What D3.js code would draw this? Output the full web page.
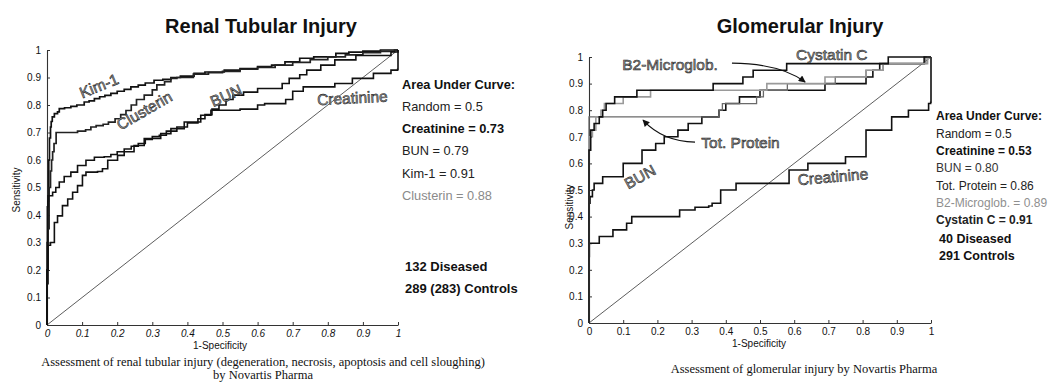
<!DOCTYPE html>
<html><head><meta charset="utf-8">
<script src="https://cdn.jsdelivr.net/npm/d3@7/dist/d3.min.js"></script>
<style>html,body{margin:0;padding:0;background:#fff;} svg{display:block}</style>
</head><body>
<svg id="chart" width="1060" height="388"></svg>
<script>
// ================= DATA =================
const axisTicks = [0,0.1,0.2,0.3,0.4,0.5,0.6,0.7,0.8,0.9,1];
const axisTickLabels = ["0","0.1","0.2","0.3","0.4","0.5","0.6","0.7","0.8","0.9","1"];
const xAxisTitle = "1-Specificity";
const yAxisTitle = "Sensitivity";
const randomLine = [[0,0],[1,1]];

// ---- Renal tubular injury (ROC points: [1-specificity, sensitivity]) ----
const renalTitle = "Renal Tubular Injury";
const renalNames = ["Kim-1","Clusterin","BUN","Creatinine"];
const renalKim1 = [[0,0],[0,0.2],[0.003,0.45],[0.005,0.6],[0.007,0.68],[0.01,0.72],[0.012,0.74],[0.015,0.757],[0.021,0.769],[0.03,0.775],[0.035,0.787],[0.05,0.79],[0.068,0.795],[0.085,0.8],[0.106,0.811],[0.12,0.815],[0.135,0.823],[0.15,0.83],[0.165,0.835],[0.182,0.842],[0.2,0.85],[0.22,0.857],[0.239,0.866],[0.26,0.872],[0.28,0.88],[0.305,0.89],[0.33,0.893],[0.353,0.9],[0.38,0.905],[0.419,0.915],[0.45,0.92],[0.505,0.927],[0.55,0.932],[0.6,0.94],[0.64,0.945],[0.678,0.957],[0.72,0.97],[0.76,0.975],[0.823,0.988],[0.86,0.992],[0.9,0.996],[0.95,1],[1,1]];
const renalClusterin = [[0,0],[0,0.15],[0.003,0.35],[0.006,0.5],[0.01,0.56],[0.013,0.6],[0.016,0.63],[0.02,0.66],[0.026,0.7],[0.087,0.705],[0.11,0.71],[0.125,0.72],[0.14,0.725],[0.16,0.73],[0.175,0.738],[0.194,0.75],[0.21,0.765],[0.225,0.78],[0.24,0.8],[0.255,0.82],[0.277,0.836],[0.3,0.855],[0.313,0.873],[0.335,0.885],[0.353,0.897],[0.37,0.9],[0.417,0.912],[0.46,0.918],[0.5,0.922],[0.55,0.93],[0.6,0.937],[0.65,0.945],[0.7,0.955],[0.75,0.965],[0.8,0.975],[0.85,0.982],[0.9,0.99],[0.95,0.995],[0.99,1],[1,1]];
const renalBUN = [[0,0],[0,0.3],[0.001,0.43],[0.003,0.47],[0.016,0.483],[0.025,0.5],[0.035,0.52],[0.049,0.54],[0.068,0.556],[0.087,0.58],[0.111,0.599],[0.135,0.61],[0.163,0.612],[0.182,0.62],[0.2,0.63],[0.22,0.64],[0.24,0.65],[0.26,0.66],[0.28,0.675],[0.3,0.685],[0.32,0.69],[0.34,0.705],[0.37,0.72],[0.4,0.735],[0.43,0.75],[0.45,0.765],[0.47,0.785],[0.49,0.8],[0.51,0.82],[0.53,0.836],[0.56,0.847],[0.6,0.86],[0.67,0.878],[0.69,0.897],[0.72,0.91],[0.74,0.927],[0.78,0.945],[0.82,0.964],[0.88,0.98],[0.98,0.993],[1,1]];
const renalCreatinine = [[0,0],[0,0.2],[0.003,0.29],[0.01,0.3],[0.021,0.373],[0.03,0.397],[0.044,0.434],[0.059,0.458],[0.073,0.483],[0.087,0.507],[0.101,0.544],[0.111,0.556],[0.144,0.558],[0.158,0.568],[0.173,0.599],[0.201,0.617],[0.22,0.63],[0.248,0.653],[0.277,0.678],[0.324,0.696],[0.353,0.714],[0.391,0.738],[0.438,0.763],[0.467,0.781],[0.55,0.785],[0.6,0.8],[0.62,0.805],[0.68,0.82],[0.7,0.85],[0.73,0.866],[0.82,0.878],[0.87,0.897],[0.93,0.915],[0.98,0.927],[0.999,0.93],[1,1]];
const renalAUCLines = ["Area Under Curve:","Random = 0.5","Creatinine = 0.73","BUN = 0.79","Kim-1 = 0.91","Clusterin = 0.88"];
const renalCountLines = ["132 Diseased","289 (283) Controls"];
const renalCaption = ["Assessment of renal tubular injury (degeneration, necrosis, apoptosis and cell sloughing)","by Novartis Pharma"];

// ---- Glomerular injury ----
const gloTitle = "Glomerular Injury";
const gloNames = ["Cystatin C","B2-Microglob.","Tot. Protein","BUN","Creatinine"];
const gloCystatinC = [[0,0],[0,0.65],[0.005,0.725],[0.015,0.75],[0.03,0.775],[0.04,0.8],[0.05,0.825],[0.075,0.85],[0.14,0.875],[0.363,0.9],[0.45,0.925],[0.48,0.95],[0.578,0.975],[0.875,1],[1,1]];
const gloB2Microglob = [[0,0],[0,0.7],[0.01,0.725],[0.02,0.775],[0.035,0.8],[0.045,0.825],[0.1,0.85],[0.18,0.875],[0.52,0.9],[0.69,0.925],[0.81,0.95],[0.86,0.975],[0.99,1],[1,1]];
const gloTotProtein = [[0,0],[0,0.775],[0.38,0.8],[0.39,0.825],[0.49,0.85],[0.51,0.875],[0.58,0.9],[0.72,0.925],[0.81,0.95],[0.86,0.975],[0.985,1],[1,1]];
const gloBUN = [[0,0],[0,0.45],[0.003,0.475],[0.01,0.5],[0.015,0.525],[0.04,0.55],[0.1,0.6],[0.155,0.65],[0.195,0.675],[0.22,0.7],[0.26,0.725],[0.29,0.75],[0.33,0.775],[0.38,0.8],[0.4,0.825],[0.44,0.85],[0.5,0.875],[0.69,0.9],[0.81,0.925],[0.83,0.95],[0.85,0.975],[0.98,1],[1,1]];
const gloCreatinine = [[0,0],[0,0.25],[0.001,0.3],[0.03,0.325],[0.07,0.35],[0.11,0.375],[0.125,0.4],[0.265,0.425],[0.31,0.435],[0.35,0.44],[0.36,0.45],[0.385,0.5],[0.43,0.525],[0.585,0.575],[0.64,0.6],[0.75,0.625],[0.81,0.725],[0.885,0.775],[0.934,0.8],[0.993,0.825],[0.999,0.83],[1,1]];
const gloAUCLines = ["Area Under Curve:","Random = 0.5","Creatinine = 0.53","BUN = 0.80","Tot. Protein = 0.86","B2-Microglob. = 0.89","Cystatin C = 0.91"];
const gloCountLines = ["40 Diseased","291 Controls"];
const gloCaption = ["Assessment of glomerular injury by Novartis Pharma"];

// ================= LAYOUT / STYLE =================
const SANS = "'Liberation Sans', Arial, Helvetica, sans-serif";
const SERIF = "'Liberation Serif', 'Times New Roman', serif";
const svg = d3.select("#chart");

const panels = [
  {
    title: renalTitle, titleX: 261, titleY: 33,
    x0: 47, x1: 398, y0: 325, y1: 50, italicTicks: true,
    series: [
      {data: renalKim1, color: "#111", width: 1.7},
      {data: renalClusterin, color: "#222", width: 1.7},
      {data: renalBUN, color: "#111", width: 1.6},
      {data: renalCreatinine, color: "#111", width: 1.6}
    ],
    labels: [
      {text: renalNames[0], x: 0.148, y: 0.87, rot: -22},
      {text: renalNames[1], x: 0.277, y: 0.78, rot: -30},
      {text: renalNames[2], x: 0.51, y: 0.834, rot: -24},
      {text: renalNames[3], x: 0.87, y: 0.826, rot: -3}
    ],
    arrows: [],
    legendX: 402, legendY: [89, 111, 133, 155, 177.5, 200], legendSize: 12.8,
    legendWeights: ["bold","normal","bold","normal","normal","normal"],
    legendColors: ["#111","#222","#111","#222","#222","#8a8a8a"],
    legend: renalAUCLines,
    countX: 405, countY: [271, 293], countSize: 13,
    counts: renalCountLines,
    yTitleX: 16, yTitleY: 190, xTitleX: 220, xTitleY: 349,
    caption: renalCaption, captionX: 263, captionY: [366, 379]
  },
  {
    title: gloTitle, titleX: 800, titleY: 33,
    x0: 589, x1: 931, y0: 323, y1: 57, italicTicks: false,
    series: [
      {data: gloCreatinine, color: "#111", width: 1.6},
      {data: gloBUN, color: "#111", width: 1.6},
      {data: gloTotProtein, color: "#6a6a6a", width: 1.3},
      {data: gloB2Microglob, color: "#9a9a9a", width: 1.6},
      {data: gloCystatinC, color: "#111", width: 1.6}
    ],
    labels: [
      {text: gloNames[0], x: 0.71, y: 1.008, rot: 0},
      {text: gloNames[1], x: 0.237, y: 0.972, rot: 0},
      {text: gloNames[2], x: 0.443, y: 0.68, rot: 0},
      {text: gloNames[3], x: 0.149, y: 0.55, rot: -29},
      {text: gloNames[4], x: 0.713, y: 0.55, rot: -5}
    ],
    arrows: [
      {from: [0.418, 0.977], ctrl: [0.56, 0.975], to: [0.632, 0.906]},
      {from: [0.31, 0.68], ctrl: [0.215, 0.683], to: [0.158, 0.763]}
    ],
    legendX: 936, legendY: [120, 137.5, 155, 172, 189.5, 207, 224], legendSize: 12,
    legendWeights: ["bold","normal","bold","normal","normal","normal","bold"],
    legendColors: ["#111","#222","#111","#333","#222","#8f8f8f","#222"],
    legend: gloAUCLines,
    countX: 939, countY: [243, 260], countSize: 12.5,
    counts: gloCountLines,
    yTitleX: 569, yTitleY: 207, xTitleX: 759, xTitleY: 347,
    caption: gloCaption, captionX: 804, captionY: [373]
  }
];

const defs = svg.append("defs");
defs.append("marker").attr("id","arrowhead").attr("viewBox","0 0 10 10")
  .attr("refX",9).attr("refY",5).attr("markerWidth",9).attr("markerHeight",7)
  .attr("markerUnits","userSpaceOnUse").attr("orient","auto")
  .append("path").attr("d","M0,0 L10,5 L0,10 Z").attr("fill","#111");

panels.forEach(p => {
  const x = d3.scaleLinear().domain([0,1]).range([p.x0, p.x1]);
  const y = d3.scaleLinear().domain([0,1]).range([p.y0, p.y1]);
  const g = svg.append("g");

  // title
  g.append("text").attr("x", p.titleX).attr("y", p.titleY)
    .attr("text-anchor","middle").attr("font-family", SANS)
    .attr("font-weight","bold").attr("font-size", 20).attr("fill","#111")
    .text(p.title);

  // axes
  const xa = g.append("g").attr("transform", `translate(0,${p.y0})`)
    .call(d3.axisBottom(x).tickValues(axisTicks).tickFormat((d,i)=>axisTickLabels[i])
      .tickSizeInner(-3).tickSizeOuter(0).tickPadding(5));
  const ya = g.append("g").attr("transform", `translate(${p.x0},0)`)
    .call(d3.axisLeft(y).tickValues(axisTicks).tickFormat((d,i)=>axisTickLabels[i])
      .tickSizeInner(-3).tickSizeOuter(0).tickPadding(6));
  [xa, ya].forEach(a => {
    a.select(".domain").attr("stroke","#333").attr("stroke-width",1.1);
    a.selectAll(".tick line").attr("stroke","#333");
    a.selectAll(".tick text").attr("font-family", SANS).attr("font-size", 10).attr("fill","#111");
  });
  if (p.italicTicks) xa.selectAll(".tick text").attr("font-style","italic");

  // random diagonal
  const line = d3.line().x(d => x(d[0])).y(d => y(d[1]));
  g.append("path").datum(randomLine).attr("d", line)
    .attr("fill","none").attr("stroke","#333").attr("stroke-width",0.8);

  // ROC curves
  const stepLine = d3.line().x(d => x(d[0])).y(d => y(d[1])).curve(d3.curveStepAfter);
  p.series.forEach(s => {
    g.append("path").datum(s.data).attr("d", stepLine)
      .attr("fill","none").attr("stroke", s.color).attr("stroke-width", s.width)
      .attr("stroke-linejoin","miter");
  });

  // curve labels
  p.labels.forEach(l => {
    g.append("text").attr("transform", `translate(${x(l.x)},${y(l.y)}) rotate(${l.rot})`)
      .attr("text-anchor","middle").attr("dominant-baseline","central")
      .attr("font-family", SANS).attr("font-size", 15.5)
      .attr("fill","#9a9a9a").attr("stroke","#222").attr("stroke-width",0.55)
      .text(l.text);
  });

  // arrows
  p.arrows.forEach(a => {
    const path = d3.path();
    path.moveTo(x(a.from[0]), y(a.from[1]));
    path.quadraticCurveTo(x(a.ctrl[0]), y(a.ctrl[1]), x(a.to[0]), y(a.to[1]));
    g.append("path").attr("d", path.toString()).attr("fill","none")
      .attr("stroke","#111").attr("stroke-width",1.2).attr("marker-end","url(#arrowhead)");
  });

  // AUC legend
  p.legend.forEach((t, i) => {
    g.append("text").attr("x", p.legendX).attr("y", p.legendY[i])
      .attr("font-family", SANS).attr("font-size", p.legendSize)
      .attr("font-weight", p.legendWeights[i]).attr("fill", p.legendColors[i]).text(t);
  });
  p.counts.forEach((t, i) => {
    g.append("text").attr("x", p.countX).attr("y", p.countY[i])
      .attr("font-family", SANS).attr("font-size", p.countSize)
      .attr("font-weight","bold").attr("fill","#111").text(t);
  });

  // axis titles
  g.append("text").attr("transform", `translate(${p.yTitleX},${p.yTitleY}) rotate(-90)`)
    .attr("text-anchor","middle").attr("dominant-baseline","central")
    .attr("font-family", SANS).attr("font-size", 10).attr("fill","#111").text(yAxisTitle);
  g.append("text").attr("x", p.xTitleX).attr("y", p.xTitleY)
    .attr("text-anchor","middle").attr("font-family", SANS).attr("font-size", 10)
    .attr("fill","#111").text(xAxisTitle);

  // caption
  p.caption.forEach((t, i) => {
    g.append("text").attr("x", p.captionX).attr("y", p.captionY[i])
      .attr("text-anchor","middle").attr("font-family", SERIF).attr("font-size", 12.5)
      .attr("fill","#111").text(t);
  });
});
</script>
</body></html>
